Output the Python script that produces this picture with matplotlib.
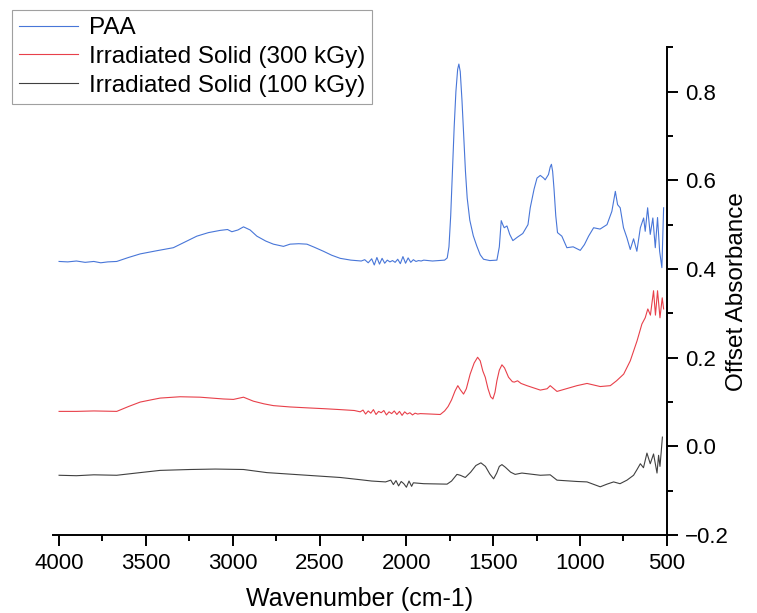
import matplotlib.pyplot as plt
from matplotlib.ticker import MultipleLocator

plt.rcParams['font.family'] = ['Liberation Sans', 'DejaVu Sans']

# PAA spectrum (wavenumber, offset absorbance)
paa_wn = [4000, 3950, 3900, 3850, 3800, 3760, 3720, 3668, 3600, 3533, 3440, 3342, 3270, 3207,
          3140, 3073, 3030, 3005, 2970, 2938, 2900, 2861, 2810, 2766, 2708, 2670, 2620, 2573,
          2530, 2478, 2430, 2381, 2320,
          2260, 2240, 2220, 2200, 2185, 2170, 2155, 2140, 2125, 2110, 2095, 2080,
          2065, 2050, 2035, 2020, 2005, 1990, 1975, 1960, 1945, 1930, 1915, 1900,
          1850, 1780, 1765, 1755, 1745, 1735, 1725, 1715, 1705, 1698, 1690, 1680, 1670,
          1660, 1650, 1635, 1615, 1595, 1575, 1556, 1520, 1479,
          1465, 1454, 1445, 1437, 1421, 1405, 1387, 1360, 1330, 1300, 1287, 1265, 1248,
          1229, 1210, 1201, 1182, 1172, 1165, 1158, 1150, 1140, 1130, 1105, 1076, 1040,
          999, 975, 951, 922, 885, 845, 817, 797, 784,
          769, 750, 730, 711, 692, 673, 653, 634, 625, 611, 596, 581, 567, 554,
          542, 529, 519]
paa_abs = [0.417, 0.416, 0.418, 0.415, 0.417, 0.414, 0.416, 0.417, 0.426, 0.434, 0.441, 0.448, 0.462, 0.474,
           0.482, 0.487, 0.489, 0.484, 0.488, 0.495, 0.488, 0.474, 0.463, 0.456, 0.451, 0.456, 0.457, 0.456,
           0.449, 0.440, 0.431, 0.424, 0.420,
           0.418, 0.421, 0.414, 0.423, 0.409, 0.426, 0.411, 0.424, 0.413, 0.420, 0.416, 0.419,
           0.415, 0.422, 0.412, 0.428, 0.413, 0.425, 0.415, 0.421, 0.417, 0.419, 0.418, 0.420,
           0.418, 0.420, 0.425, 0.450, 0.520, 0.620, 0.720, 0.800, 0.850, 0.862, 0.845, 0.780, 0.700,
           0.620, 0.560, 0.510, 0.475, 0.452, 0.432, 0.422, 0.419, 0.420,
           0.450, 0.509, 0.500, 0.493, 0.497, 0.478, 0.464, 0.472, 0.480, 0.500, 0.538, 0.580, 0.605,
           0.611, 0.605, 0.601, 0.613, 0.630, 0.636, 0.620, 0.580, 0.520, 0.482, 0.474, 0.448, 0.450,
           0.442, 0.455, 0.474, 0.493, 0.490, 0.500, 0.530, 0.575, 0.545,
           0.538, 0.493, 0.470, 0.444, 0.468, 0.440, 0.493, 0.515, 0.485, 0.538, 0.478, 0.515, 0.448, 0.516,
           0.440, 0.403, 0.538]

# Irradiated solid, 300 kGy
s300_wn = [4000, 3900, 3800, 3668, 3600, 3533, 3470, 3418, 3303, 3188, 3054, 2996, 2938, 2881,
           2820, 2766, 2670, 2573, 2470, 2381, 2300,
           2266, 2250, 2235, 2220, 2205, 2190, 2175, 2160, 2145, 2130, 2115, 2100,
           2085, 2070, 2055, 2040, 2025, 2010, 1995, 1980, 1965, 1950, 1935, 1920,
           1860, 1805, 1780, 1760, 1740, 1720, 1704, 1690, 1671, 1655, 1633, 1610, 1590,
           1575, 1560, 1546, 1530, 1515, 1502, 1490, 1479, 1465, 1450, 1435, 1412, 1390,
           1379, 1360, 1340, 1306, 1229, 1190, 1172, 1133, 1018, 960, 884, 826, 790, 749, 711,
           672, 644, 625, 610, 595, 577, 566, 554, 540, 527, 519]
s300_abs = [0.079, 0.079, 0.080, 0.079, 0.090, 0.100, 0.105, 0.109, 0.112, 0.111, 0.107, 0.106, 0.111, 0.102,
            0.096, 0.092, 0.089, 0.087, 0.085, 0.083, 0.081,
            0.078, 0.082, 0.073, 0.080, 0.075, 0.083, 0.072, 0.079, 0.076, 0.081, 0.071, 0.078,
            0.074, 0.080, 0.072, 0.079, 0.070, 0.078, 0.073, 0.076, 0.071, 0.075, 0.073, 0.074,
            0.073, 0.072, 0.080, 0.090, 0.105, 0.125, 0.137, 0.128, 0.118, 0.130, 0.163, 0.188, 0.201,
            0.193, 0.170, 0.156, 0.130, 0.112, 0.107, 0.122, 0.148, 0.172, 0.184, 0.177, 0.156, 0.146,
            0.145, 0.148, 0.142, 0.137, 0.127, 0.130, 0.137, 0.124, 0.137, 0.142, 0.135, 0.137, 0.148, 0.163, 0.193,
            0.238, 0.276, 0.290, 0.310, 0.296, 0.351, 0.296, 0.351, 0.290, 0.335, 0.310]

# Irradiated solid, 100 kGy
s100_wn = [4000, 3900, 3800, 3668, 3533, 3418, 3245, 3100, 2938, 2804, 2573, 2381,
           2266, 2200, 2120, 2090, 2075, 2060, 2045, 2030, 2015, 2000, 1985, 1970,
           1960, 1900, 1766, 1740, 1709, 1690, 1661, 1630, 1600, 1571, 1545, 1520, 1498,
           1480, 1465, 1450, 1430, 1400, 1374, 1335, 1229, 1172,
           1133, 1018, 960, 884, 845, 807, 770, 730, 692, 672, 653, 635, 615, 596,
           577, 557, 548, 540, 533, 526]
s100_abs = [-0.065, -0.066, -0.064, -0.065, -0.059, -0.054, -0.052, -0.051, -0.052, -0.059, -0.065, -0.070,
            -0.075, -0.078, -0.080, -0.076, -0.086, -0.077, -0.089, -0.079, -0.084, -0.092, -0.078, -0.090,
            -0.082, -0.084, -0.085, -0.078, -0.063, -0.065, -0.070, -0.058, -0.043, -0.037, -0.045, -0.062, -0.073,
            -0.060, -0.045, -0.041, -0.047, -0.058, -0.063, -0.060, -0.065, -0.064,
            -0.076, -0.079, -0.080, -0.091, -0.085, -0.080, -0.084, -0.076, -0.065, -0.052, -0.039, -0.048, -0.015, -0.039,
            -0.017, -0.060, -0.020, -0.045, -0.013, 0.021]

fig = plt.figure(figsize=(7.57, 6.13), dpi=100)
ax = fig.add_axes([0.070, 0.127, 0.811, 0.796])

ax.plot(paa_wn, paa_abs, color='#4876d8', linewidth=0.8, label='PAA')
ax.plot(s300_wn, s300_abs, color='#e8404a', linewidth=0.8, label='Irradiated Solid (300 kGy)')
ax.plot(s100_wn, s100_abs, color='#404040', linewidth=0.8, label='Irradiated Solid (100 kGy)')

ax.set_xlim(4035, 500)
ax.set_ylim(-0.2, 0.9)

# only bottom and right axes, like the original
ax.spines['top'].set_visible(False)
ax.spines['left'].set_visible(False)
ax.spines['right'].set_linewidth(1.4)
ax.spines['bottom'].set_linewidth(1.4)
ax.yaxis.tick_right()
ax.yaxis.set_label_position('right')

ax.set_xticks([4000, 3500, 3000, 2500, 2000, 1500, 1000, 500])
ax.xaxis.set_minor_locator(MultipleLocator(250))
ax.set_yticks([-0.2, 0.0, 0.2, 0.4, 0.6, 0.8])
ax.set_yticklabels(['\u22120.2', '0.0', '0.2', '0.4', '0.6', '0.8'])
ax.yaxis.set_minor_locator(MultipleLocator(0.1))
ax.tick_params(which='major', direction='out', length=8, width=1.4, labelsize=16, pad=5)
ax.tick_params(which='minor', direction='out', length=4, width=1.4)

ax.set_xlabel('Wavenumber (cm-1)', fontsize=18, labelpad=9)
ax.set_ylabel('Offset Absorbance', fontsize=17.5, labelpad=-2)

leg = fig.legend(loc='upper left', bbox_to_anchor=(0.016, 0.984), fontsize=17.5,
                 frameon=True, fancybox=False, handlelength=2.4, handletextpad=0.45,
                 borderpad=0.3, labelspacing=0.28, borderaxespad=0)
leg.get_frame().set_edgecolor('#888888')
leg.get_frame().set_linewidth(0.8)

fig.savefig('out.png', dpi=100)
